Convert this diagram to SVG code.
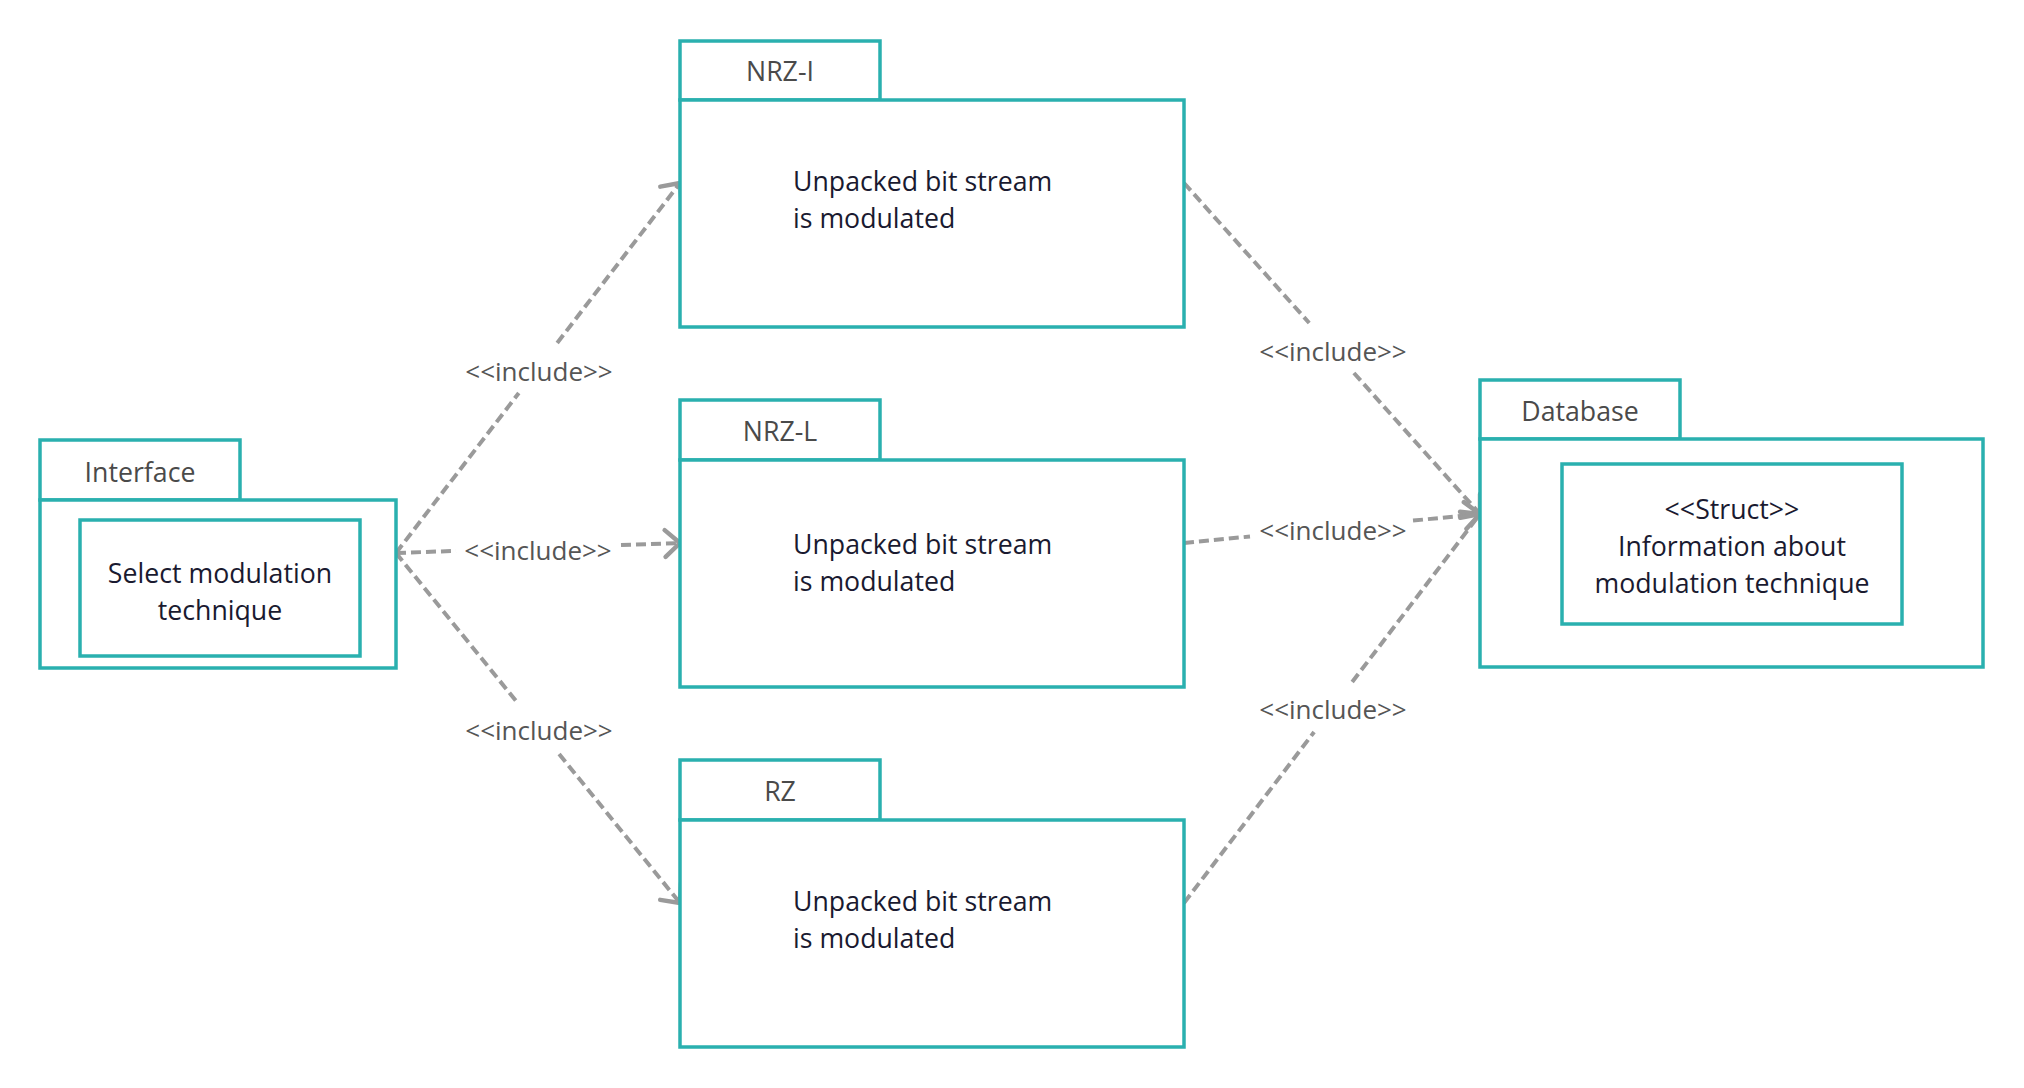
<svg xmlns="http://www.w3.org/2000/svg" width="2024" height="1088" viewBox="0 0 2024 1088">
<style>
.box{fill:#fff;stroke:#2AB0AF;stroke-width:3.5}
.title{font-family:"Open Sans","Noto Sans",sans-serif;font-size:26.7px;fill:#4a4a4a;text-anchor:middle}
.txt{font-family:"Open Sans","Noto Sans",sans-serif;font-size:26.7px;fill:#1a1a30}
.ctr{text-anchor:middle}
.conn{fill:none;stroke:#9a9a9a;stroke-width:4;stroke-dasharray:10 5}
.lbl{font-family:"Open Sans","Noto Sans",sans-serif;font-size:26px;fill:#555;text-anchor:middle}
</style>
<defs>
<marker id="arr" markerUnits="userSpaceOnUse" markerWidth="40" markerHeight="40" viewBox="-20 -20 40 40" refX="0" refY="0" orient="auto" overflow="visible">
<path d="M -14.9 -13.4 L 0 0 L -14.9 13.4" fill="none" stroke="#9a9a9a" stroke-width="4.5" stroke-linecap="round" stroke-linejoin="round"/>
</marker>
</defs>
<rect width="2024" height="1088" fill="#fff"/>
<g id="connectors">
<path class="conn" d="M396 553 L518.8 393 M557.2 343 L680 183" marker-end="url(#arr)"/>
<path class="conn" d="M396 553 L456 550.9 M621 545.1 L680 543" marker-end="url(#arr)"/>
<path class="conn" d="M396 553 L517.7 703 M559.1 754 L680 903" marker-end="url(#arr)"/>
<path class="conn" d="M1184 183 L1309.2 323 M1353.9 373 L1480 514" marker-end="url(#arr)"/>
<path class="conn" d="M1184 543 L1250 536.5 M1413 520.6 L1480 514" marker-end="url(#arr)"/>
<path class="conn" d="M1184 903 L1314.1 732 M1352.2 682 L1480 514" marker-end="url(#arr)"/>
<text class="lbl" x="539" y="380.5">&lt;&lt;include&gt;&gt;</text>
<text class="lbl" x="538" y="559.5">&lt;&lt;include&gt;&gt;</text>
<text class="lbl" x="539" y="740">&lt;&lt;include&gt;&gt;</text>
<text class="lbl" x="1333" y="360.5">&lt;&lt;include&gt;&gt;</text>
<text class="lbl" x="1333" y="539.5">&lt;&lt;include&gt;&gt;</text>
<text class="lbl" x="1333" y="719">&lt;&lt;include&gt;&gt;</text>
</g>
<g id="interface">
<rect class="box" x="40" y="440" width="200" height="60"/>
<rect class="box" x="40" y="500" width="356" height="168"/>
<rect class="box" x="80" y="520" width="280" height="136"/>
<text class="title" x="140" y="482">Interface</text>
<text class="txt ctr" x="220" y="582.5">Select modulation</text>
<text class="txt ctr" x="220" y="619.5">technique</text>
</g>
<g id="nrz-i">
<rect class="box" x="680" y="41" width="200" height="59"/>
<rect class="box" x="680" y="100" width="504" height="227"/>
<text class="title" x="780" y="81">NRZ-I</text>
<text class="txt" x="793" y="191">Unpacked bit stream</text>
<text class="txt" x="793" y="228">is modulated</text>
</g>
<g id="nrz-l">
<rect class="box" x="680" y="400" width="200" height="60"/>
<rect class="box" x="680" y="460" width="504" height="227"/>
<text class="title" x="780" y="441">NRZ-L</text>
<text class="txt" x="793" y="554">Unpacked bit stream</text>
<text class="txt" x="793" y="591">is modulated</text>
</g>
<g id="rz">
<rect class="box" x="680" y="760" width="200" height="60"/>
<rect class="box" x="680" y="820" width="504" height="227"/>
<text class="title" x="780" y="801">RZ</text>
<text class="txt" x="793" y="911">Unpacked bit stream</text>
<text class="txt" x="793" y="948">is modulated</text>
</g>
<g id="database">
<rect class="box" x="1480" y="380" width="200" height="59"/>
<rect class="box" x="1480" y="439" width="503" height="228"/>
<rect class="box" x="1562" y="464" width="340" height="160"/>
<text class="title" x="1580" y="421">Database</text>
<text class="txt ctr" x="1732" y="518.5">&lt;&lt;Struct&gt;&gt;</text>
<text class="txt ctr" x="1732" y="555.5">Information about</text>
<text class="txt ctr" x="1732" y="592.5">modulation technique</text>
</g>
</svg>
